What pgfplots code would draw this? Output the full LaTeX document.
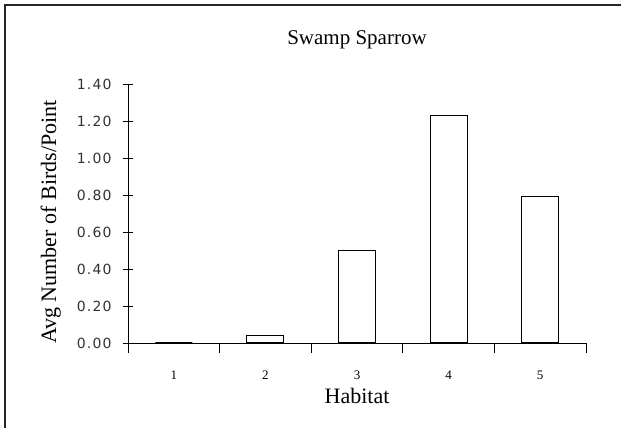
\documentclass[border=0pt]{standalone}
\usepackage{pgfplots}
\pgfplotsset{compat=1.18}
\usepackage{fontspec}
\setmainfont{Liberation Serif}
\newfontfamily\tickfont[LetterSpace=8]{DejaVu Sans}
\newcommand\yl[1]{{\tickfont\fontsize{14bp}{16bp}\selectfont\color{black!80}#1}}
\newcommand\xl[1]{{\fontsize{13bp}{15bp}\selectfont #1}}
\begin{document}
\begin{tikzpicture}
\useasboundingbox (0,0) rectangle (621bp,428bp);
\fill[white] (0,0) rectangle (621bp,428bp);
\draw[line width=1.2bp, black!85] (5bp,0bp) -- (5bp,423bp) -- (621bp,423bp);
\begin{axis}[
  at={(128bp,85bp)}, anchor=south west,
  scale only axis, width=458bp, height=259bp,
  xmin=0.5, xmax=5.5, ymin=0, ymax=1.4,
  axis lines=left, axis line style={-, line width=0.9bp, black},
  xtick={0.5,1.5,2.5,3.5,4.5,5.5},
  x tick label as interval,
  xticklabels={\xl{1},\xl{2},\xl{3},\xl{4},\xl{5}},
  ytick={0,0.2,0.4,0.6,0.8,1.0,1.2,1.4},
  yticklabels={\yl{0.00},\yl{0.20},\yl{0.40},\yl{0.60},\yl{0.80},\yl{1.00},\yl{1.20},\yl{1.40}},
  yticklabel style={anchor=east, xshift=-8bp},
  xticklabel style={anchor=base, yshift=-26bp},
  tick align=center, major tick length=10bp,
  tick style={line width=0.9bp, black},
  title={Swamp Sparrow},
  title style={at={(axis description cs:0.5,1.131)}, anchor=base, font=\fontsize{21bp}{24bp}\selectfont},
  xlabel={Habitat},
  xlabel style={at={(axis description cs:0.5,-0.2317)}, anchor=base, font=\fontsize{22bp}{26bp}\selectfont},
  ylabel={Avg Number of Birds/Point},
  ylabel style={at={(axis description cs:-0.157,0.467)}, anchor=base, rotate=0, font=\fontsize{22bp}{26bp}\selectfont},
  ybar, bar width=37bp, bar shift=0pt,
]
\addplot[draw=black, fill=white, line width=1.1bp] coordinates {(1,0) (2,0.04) (3,0.50) (4,1.23) (5,0.79)};
\end{axis}
\end{tikzpicture}
\end{document}
